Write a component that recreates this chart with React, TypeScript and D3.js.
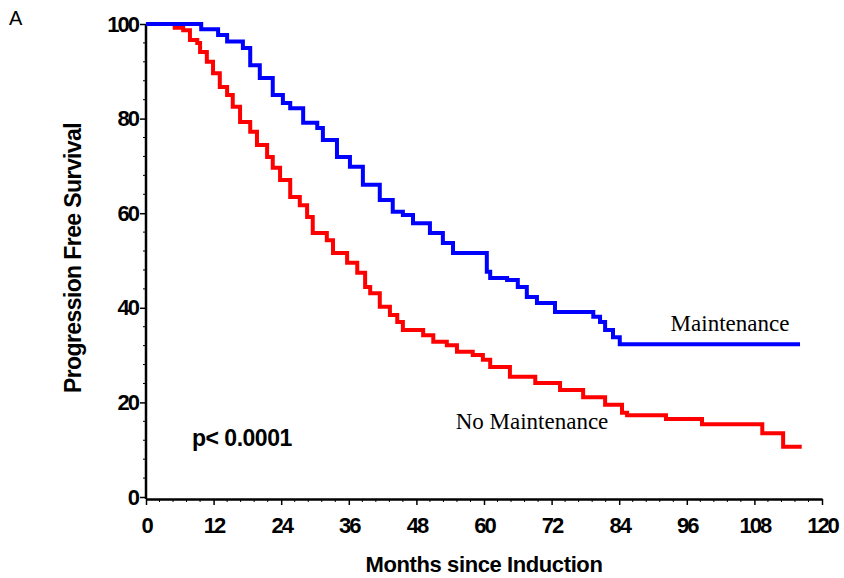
import React, { useEffect, useRef } from "react";
import * as d3 from "d3";

// Kaplan-Meier change points (month, % progression free)
const maintMonths = [0, 9.8, 12.8, 14.4, 17.2, 18.5, 20.2, 22.5, 24.3, 25.6, 27.9, 30.4, 31.4, 33.9, 36.2, 38.5, 41.5, 43.8, 45.6, 47.4, 50.4, 52.7, 54.5, 57.9, 60.5, 61.1, 64.1, 66, 67.6, 69.4, 72.6, 78.3, 79.4, 80.6, 81.5, 82.9, 84.1, 116.1];
const maintValues = [100, 98.9, 97.7, 96.3, 94.9, 91.3, 88.6, 85, 83.3, 82.2, 79.1, 78, 75.5, 71.9, 69.8, 66, 62.8, 60.3, 59.6, 57.9, 55.8, 53.7, 51.6, 51.6, 47.6, 46.3, 45.9, 44.4, 42.3, 41, 39.1, 39.1, 38.1, 37, 35.3, 33.8, 32.3, 32.3];

const noMaintMonths = [0, 5.1, 6.6, 7.8, 9.1, 9.6, 10.8, 11.9, 13.1, 14.4, 15.4, 16.7, 18.5, 19.7, 21.5, 22.5, 23.8, 25.6, 27.3, 28.6, 29.6, 32.1, 33.2, 35.7, 37.5, 38.9, 39.8, 41.5, 43.3, 44.6, 45.6, 49.2, 51, 53.4, 55.2, 58, 59.8, 61.1, 64.6, 69.1, 73.5, 77.6, 81.5, 84.5, 85.4, 92.3, 98.7, 109.4, 113.1, 116.4];
const noMaintValues = [100, 99.2, 98.7, 96.6, 96, 94.1, 92, 89.6, 86.7, 85, 82.5, 79.3, 77.2, 74.4, 71.9, 69.6, 67, 63.4, 61.7, 59.2, 55.8, 54.3, 51.6, 49.5, 47.4, 44.4, 43.1, 40.2, 38.5, 37, 35.3, 34.2, 32.8, 32.1, 30.7, 30, 29, 27.5, 25.4, 24.1, 22.6, 21.1, 19.5, 17.8, 17.3, 16.5, 15.4, 13.5, 10.6, 10.6];

const xTicks = [0, 12, 24, 36, 48, 60, 72, 84, 96, 108, 120];
const yTicks = [0, 20, 40, 60, 80, 100];

const App = () => {
  const svgRef = useRef<SVGSVGElement>(null);

  useEffect(() => {
    const w = 844;
    const h = 578;
    const svg = d3.select(svgRef.current).attr("width", w).attr("height", h);
    svg.selectAll("*").remove();

    const x = d3.scaleLinear().domain([0, 120]).range([146, 822]);
    const y = d3.scaleLinear().domain([0, 100]).range([497, 24]);
    const sans = "'Liberation Sans', Arial, sans-serif";
    const serif = "'Liberation Serif', 'Times New Roman', serif";

    // axes
    const xAxis = d3
      .axisBottom(x)
      .tickValues(xTicks)
      .tickSize(6)
      .tickSizeOuter(0)
      .tickPadding(12);
    const gx = svg.append("g").attr("transform", "translate(0,499)").call(xAxis);

    const yAxis = d3
      .axisLeft(y)
      .tickValues(yTicks)
      .tickSize(6)
      .tickSizeOuter(0)
      .tickPadding(2);
    const gy = svg.append("g").attr("transform", "translate(146,0)").call(yAxis);

    [gx, gy].forEach((g) => {
      g.select(".domain").attr("stroke", "#000").attr("stroke-width", 2.5);
      g.selectAll(".tick line").attr("stroke", "#000").attr("stroke-width", 1.5);
      g.selectAll(".tick text")
        .attr("fill", "#000")
        .style("font-family", sans)
        .style("font-weight", "bold")
        .style("font-size", "22px")
        .style("letter-spacing", "-2px");
    });
    gy.select(".domain").attr("d", "M0,499V24");

    // minor ticks
    gx.selectAll(".minor")
      .data(d3.range(0, 120.01, 2.4).filter((v) => xTicks.indexOf(Math.round(v * 10) / 10) < 0))
      .join("line")
      .attr("x1", (d) => x(d))
      .attr("x2", (d) => x(d))
      .attr("y1", 0)
      .attr("y2", 3)
      .attr("stroke", "#000")
      .attr("stroke-width", 1);
    gy.selectAll(".minor")
      .data(d3.range(0, 100.01, 4).filter((v) => yTicks.indexOf(v) < 0))
      .join("line")
      .attr("y1", (d) => y(d))
      .attr("y2", (d) => y(d))
      .attr("x1", 0)
      .attr("x2", -3)
      .attr("stroke", "#000")
      .attr("stroke-width", 1);

    // survival curves
    const drawCurve = (months: number[], values: number[], color: string) => {
      const pts = months.map((m, i) => [m, values[i]] as [number, number]);
      const gen = d3
        .line<[number, number]>()
        .x((d) => x(d[0]))
        .y((d) => y(d[1]))
        .curve(d3.curveStepAfter);
      svg
        .append("path")
        .datum(pts)
        .attr("d", gen)
        .attr("fill", "none")
        .attr("stroke", color)
        .attr("stroke-width", 4);
    };
    drawCurve(noMaintMonths, noMaintValues, "#ff0000");
    drawCurve(maintMonths, maintValues, "#0000ff");

    // labels
    svg
      .append("text")
      .attr("x", 730)
      .attr("y", 331)
      .attr("text-anchor", "middle")
      .style("font-family", serif)
      .style("font-size", "23px")
      .text("Maintenance");
    svg
      .append("text")
      .attr("x", 532)
      .attr("y", 429)
      .attr("text-anchor", "middle")
      .style("font-family", serif)
      .style("font-size", "23px")
      .text("No Maintenance");
    svg
      .append("text")
      .attr("x", 192)
      .attr("y", 446)
      .style("font-family", sans)
      .style("font-weight", "bold")
      .style("font-size", "23px")
      .style("letter-spacing", "-0.5px")
      .text("p< 0.0001");
    svg
      .append("text")
      .attr("x", 9)
      .attr("y", 25)
      .style("font-family", sans)
      .style("font-size", "20px")
      .text("A");
    svg
      .append("text")
      .attr("x", 484)
      .attr("y", 572)
      .attr("text-anchor", "middle")
      .style("font-family", sans)
      .style("font-weight", "bold")
      .style("font-size", "22px")
      .style("letter-spacing", "-0.4px")
      .text("Months since Induction");
    svg
      .append("text")
      .attr("transform", "translate(81,258) rotate(-90)")
      .attr("text-anchor", "middle")
      .style("font-family", sans)
      .style("font-weight", "bold")
      .style("font-size", "23px")
      .style("letter-spacing", "-0.6px")
      .text("Progression Free Survival");
  }, []);

  return (
    <div style={{ position: "absolute", left: 0, top: 0, background: "#fff" }}>
      <svg ref={svgRef}></svg>
    </div>
  );
};

export default App;
